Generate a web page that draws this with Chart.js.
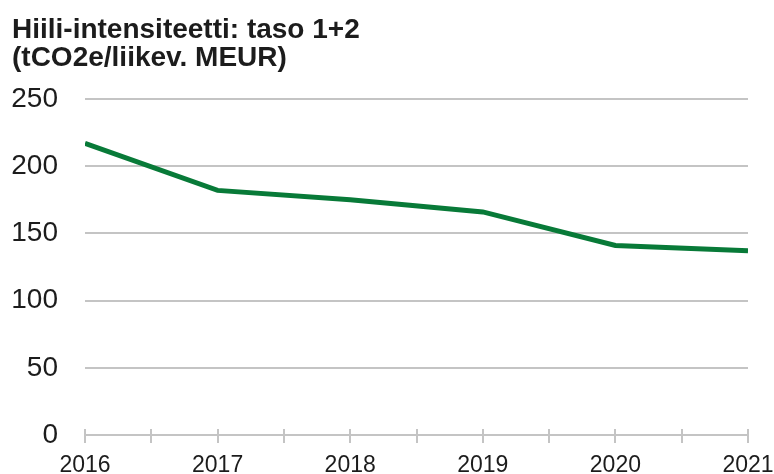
<!DOCTYPE html>
<html>
<head>
<meta charset="utf-8">
<script src="https://cdn.jsdelivr.net/npm/chart.js@4/dist/chart.umd.min.js"></script>
<style>
  html, body { margin: 0; padding: 0; background: #ffffff; }
  #wrap { width: 774px; height: 474px; position: relative; }
</style>
</head>
<body>
<div id="wrap"><canvas id="c" width="774" height="474"></canvas></div>
<script>
const titleLines = ["Hiili-intensiteetti: taso 1+2", "(tCO2e/liikev. MEUR)"];
const years = [2016, 2017, 2018, 2019, 2020, 2021];
const intensity = [217, 182, 175, 166, 141, 137];
const yTicks = [0, 50, 100, 150, 200, 250];

const GRID = '#c4c4c4';
const TEXT = '#1c1c1c';
const FONT = "'Liberation Sans', Arial, sans-serif";

const tickCross = {
  id: 'tickCross',
  afterDatasetsDraw(chart) {
    const xs = chart.scales.x;
    const ctx = chart.ctx;
    const y0 = chart.scales.y.getPixelForValue(0);
    ctx.save();
    ctx.strokeStyle = GRID;
    ctx.lineWidth = 2;
    xs.ticks.forEach(t => {
      const px = Math.round(xs.getPixelForValue(t.value));
      ctx.beginPath();
      ctx.moveTo(px, y0 - 6);
      ctx.lineTo(px, y0);
      ctx.stroke();
    });
    ctx.restore();
  }
};

new Chart(document.getElementById('c'), {
  type: 'line',
  data: {
    datasets: [{
      data: years.map((yr, i) => ({ x: yr, y: intensity[i] })),
      borderColor: '#087a38',
      borderWidth: 5,
      pointRadius: 0,
      tension: 0,
      fill: false
    }]
  },
  options: {
    responsive: false,
    animation: false,
    devicePixelRatio: 1,
    layout: { padding: { left: 12, right: 26, top: 0, bottom: 0 } },
    plugins: {
      legend: { display: false },
      tooltip: { enabled: false },
      title: {
        display: true,
        text: titleLines,
        align: 'start',
        color: TEXT,
        font: { family: FONT, size: 28, weight: 'bold', lineHeight: 1.0 },
        padding: { top: 16, bottom: 27 }
      }
    },
    scales: {
      x: {
        type: 'linear',
        min: years[0],
        max: years[years.length - 1],
        ticks: {
          stepSize: 0.5,
          autoSkip: false,
          maxRotation: 0,
          color: TEXT,
          font: { family: FONT, size: 23 },
          padding: 9,
          callback: v => Number.isInteger(v) ? String(v) : ''
        },
        grid: { drawOnChartArea: false, drawTicks: true, tickLength: 8, color: GRID, lineWidth: 2 },
        border: { display: true, color: GRID, width: 2 },
        afterFit: s => { s.height = 39; s.paddingLeft = 0; s.paddingRight = 0; }
      },
      y: {
        min: yTicks[0],
        max: yTicks[yTicks.length - 1],
        afterBuildTicks: s => { s.ticks = yTicks.map(v => ({ value: v })); },
        ticks: {
          color: TEXT,
          font: { family: FONT, size: 28 },
          padding: 27
        },
        grid: { drawTicks: false, color: GRID, lineWidth: 2 },
        border: { display: false },
        afterFit: s => { s.width = 73; s.paddingTop = 0; s.paddingBottom = 0; }
      }
    }
  },
  plugins: [tickCross]
});
</script>
</body>
</html>
